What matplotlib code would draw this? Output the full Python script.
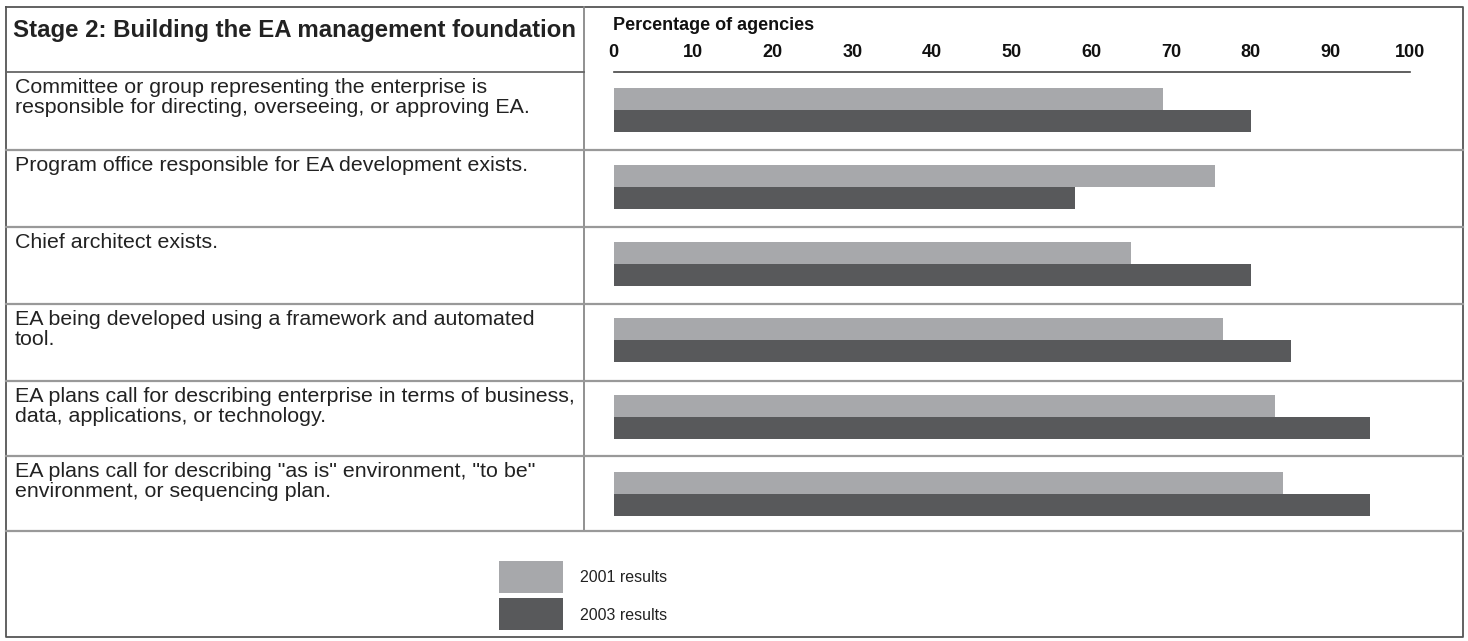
import matplotlib
matplotlib.use('Agg')
import matplotlib.pyplot as plt

plt.rcParams['font.family'] = ['Liberation Sans', 'DejaVu Sans']

# data
title = 'Stage 2: Building the EA management foundation'
categories = [
    'Committee or group representing the enterprise is\nresponsible for directing, overseeing, or approving EA.',
    'Program office responsible for EA development exists.',
    'Chief architect exists.',
    'EA being developed using a framework and automated\ntool.',
    'EA plans call for describing enterprise in terms of business,\ndata, applications, or technology.',
    'EA plans call for describing "as is" environment, "to be"\nenvironment, or sequencing plan.',
]
results_2001 = [69, 75.5, 65, 76.5, 83, 84]
results_2003 = [80, 58, 80, 85, 95, 95]
ticks = [0, 10, 20, 30, 40, 50, 60, 70, 80, 90, 100]
series_names = ['2001 results', '2003 results']

c_light = '#a7a8ab'
c_dark = '#58595b'
W, H = 1468, 641

fig = plt.figure(figsize=(W / 100, H / 100), dpi=100)

# background axes in pixel coordinates for the table frame and text
bg = fig.add_axes([0, 0, 1, 1])
bg.set_xlim(0, W)
bg.set_ylim(H, 0)
bg.axis('off')

row_tops = [72, 150, 227, 304, 381, 456]
table_bottom = 531

# outer frame
bg.plot([6, 1463, 1463, 6, 6], [7, 7, 637, 637, 7], color='#555555', lw=1.3)
# vertical divider
bg.plot([584, 584], [7, table_bottom], color='#888888', lw=1.3)
# header separator (left side only)
bg.plot([6, 584], [72, 72], color='#666666', lw=1.3)
# row separators
for y in row_tops[1:] + [table_bottom]:
    bg.plot([6, 1463], [y, y], color='#999999', lw=1.6)

bg.text(13, 30, title, fontsize=17.3, fontweight='bold', va='center', ha='left', color='#222222')
for top, lab in zip(row_tops, categories):
    bg.text(15, top + 6, lab, fontsize=15.4, va='top', ha='left', color='#222222', linespacing=1.05)

bg.text(613, 26, 'Percentage of agencies', fontsize=13, fontweight='bold', va='center', ha='left', color='#111111')

# legend
bg.add_patch(plt.Rectangle((499, 561), 64, 32, color=c_light, lw=0))
bg.add_patch(plt.Rectangle((499, 598), 64, 32, color=c_dark, lw=0))
bg.text(580, 578, series_names[0], fontsize=11.5, va='center', ha='left', color='#222222')
bg.text(580, 615, series_names[1], fontsize=11.5, va='center', ha='left', color='#222222')

# bar axes
x0, x1 = 613.5, 1410
ax = fig.add_axes([x0 / W, 1 - table_bottom / H, (x1 - x0) / W, (table_bottom - 72) / H])
ax.patch.set_alpha(0)
ypos = list(range(len(categories)))
bh = 0.286
ax.barh([y - bh / 2 for y in ypos], results_2001, height=bh, color=c_light, lw=0)
ax.barh([y + bh / 2 for y in ypos], results_2003, height=bh, color=c_dark, lw=0)
ax.set_xlim(0, 100)
ax.set_ylim(5.482, -0.495)
for s in ['left', 'right', 'bottom']:
    ax.spines[s].set_visible(False)
ax.spines['top'].set_color('#444444')
ax.spines['top'].set_linewidth(1.2)
ax.set_yticks([])
ax.xaxis.tick_top()
ax.set_xticks(ticks)
ax.set_xticklabels([str(t) for t in ticks], fontsize=13, fontweight='bold')
ax.tick_params(axis='x', length=0, pad=8, colors='#111111')

fig.savefig('out.png', dpi=100)
